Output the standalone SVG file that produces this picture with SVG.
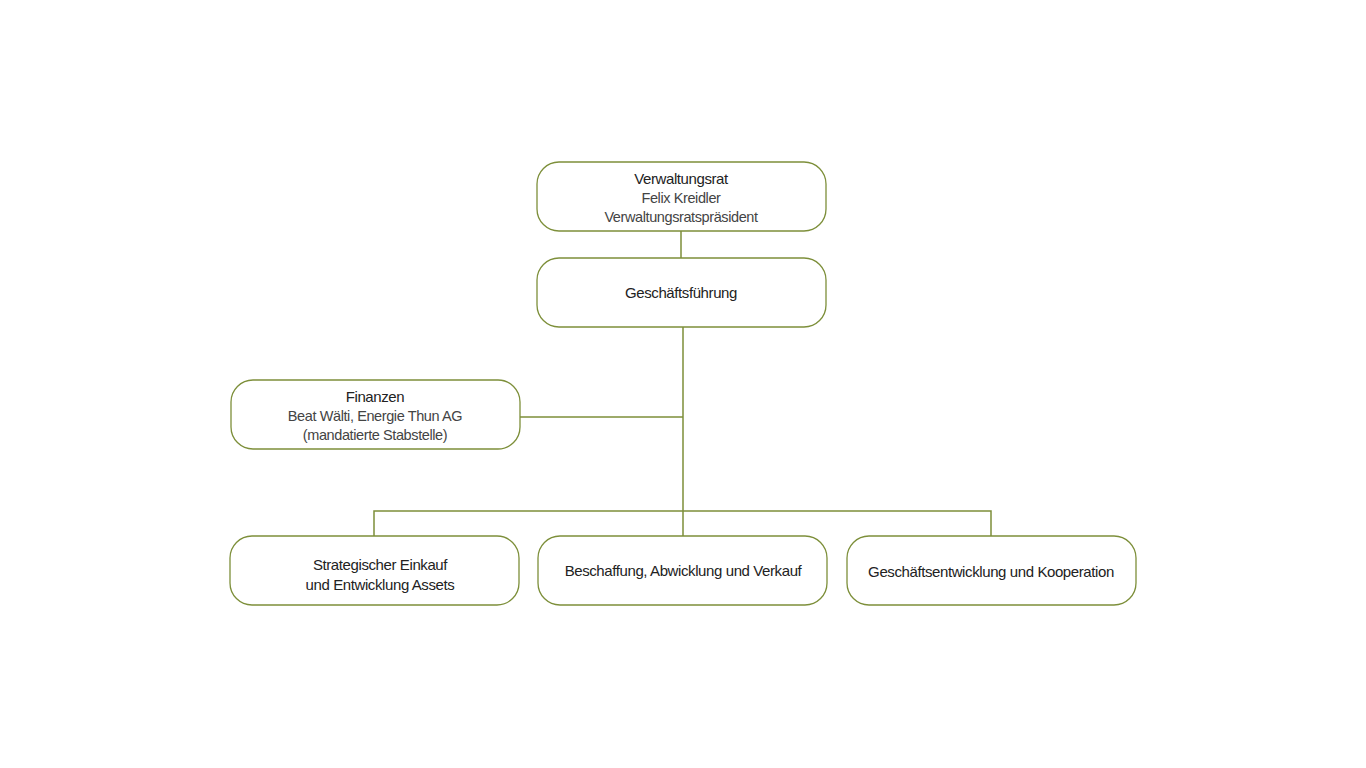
<svg xmlns="http://www.w3.org/2000/svg" width="1366" height="768" viewBox="0 0 1366 768">
<style>
.b{fill:#fff;stroke:#7d8f3a;stroke-width:1.3}
.c{stroke:#7d8f3a;stroke-width:1.5;fill:none}
text{font-family:"Liberation Sans",Arial,sans-serif;font-size:15px;fill:#333;text-anchor:middle;letter-spacing:-0.4px}
.t{font-weight:500;fill:#222}
.l{font-size:14.5px;fill:#444}
</style>
<rect width="1366" height="768" fill="#fff"/>
<g id="connectors">
<path class="c" d="M681 231V258M683 327V511M520 417H683M374 536V511H991V536M683 511V536"/>
</g>
<g id="verwaltungsrat"><rect class="b" x="537" y="162" width="289" height="69" rx="22"/>
<text class="t" x="681" y="184">Verwaltungsrat</text><text class="l" x="681" y="203">Felix Kreidler</text><text class="l" x="681" y="222">Verwaltungsratspräsident</text></g>
<g id="gf"><rect class="b" x="537" y="258" width="289" height="69" rx="22"/>
<text class="t" x="681" y="298">Geschäftsführung</text></g>
<g id="finanzen"><rect class="b" x="231" y="380" width="289" height="69" rx="22"/>
<text class="t" x="375" y="402">Finanzen</text><text class="l" x="375" y="421">Beat Wälti, Energie Thun AG</text><text class="l" x="375" y="440">(mandatierte Stabstelle)</text></g>
<g id="einkauf"><rect class="b" x="230" y="536" width="289" height="69" rx="22"/>
<text class="t" x="380" y="570">Strategischer Einkauf</text><text class="t" x="380" y="590">und Entwicklung Assets</text></g>
<g id="beschaffung"><rect class="b" x="538" y="536" width="289" height="69" rx="22"/>
<text class="t" x="683" y="576">Beschaffung, Abwicklung und Verkauf</text></g>
<g id="entwicklung"><rect class="b" x="847" y="536" width="289" height="69" rx="22"/>
<text class="t" x="991" y="577">Geschäftsentwicklung und Kooperation</text></g>
</svg>
